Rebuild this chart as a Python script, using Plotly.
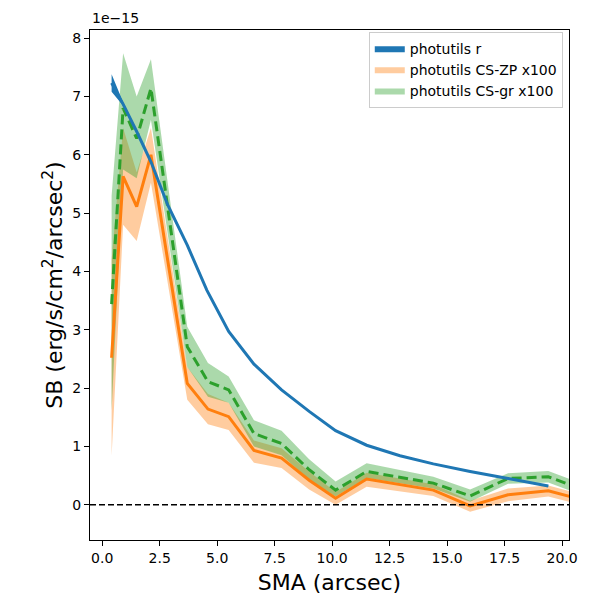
#!/usr/bin/env python3
# -*- coding: utf-8 -*-
"""
Surface-brightness profiles vs SMA: photutils r band and the two
colour-corrected profiles (scaled x100), with their error bands.
"""

import plotly.graph_objects as go

# ---------------------------------------------------------------
# data (SB in units of 1e-15 erg/s/cm^2/arcsec^2)
sma_r = [0.41, 0.91, 1.5, 2.12, 2.85, 3.7, 4.55, 5.5, 6.6, 7.8, 9.0,
         10.15, 11.5, 12.95, 14.4, 16.0, 17.65, 19.4]
sb_r = [7.23, 6.87, 6.4, 5.88, 5.14, 4.45, 3.68, 2.97, 2.41, 1.97, 1.6,
        1.27, 1.02, 0.84, 0.70, 0.57, 0.45, 0.32]
sb_r_err = [0.15, 0.03, 0.02, 0.01, 0.01, 0.01, 0.01, 0.01, 0.01, 0.01,
            0.01, 0.01, 0.01, 0.01, 0.01, 0.01, 0.01, 0.01]

sma_cs = [0.41, 0.91, 1.5, 2.12, 3.7, 4.6, 5.5, 6.6, 7.8, 9.0, 10.15,
          11.5, 14.4, 16.0, 17.65, 19.4, 21.3]

sb_zp = [2.52, 5.63, 5.11, 6.0, 2.08, 1.64, 1.51, 0.93, 0.80, 0.42, 0.11,
         0.44, 0.25, -0.02, 0.17, 0.24, 0.04]
sb_zp_lo = [0.84, 4.8, 4.52, 5.52, 1.8, 1.38, 1.28, 0.72, 0.63, 0.26, 0.0,
            0.31, 0.15, -0.12, 0.06, 0.14, -0.05]
sb_zp_hi = [4.2, 6.46, 5.7, 6.46, 2.36, 1.9, 1.75, 1.1, 0.97, 0.57, 0.22,
            0.55, 0.35, 0.07, 0.28, 0.33, 0.13]

sb_gr = [3.44, 6.8, 6.28, 7.14, 2.71, 2.11, 1.97, 1.22, 1.05, 0.6, 0.25,
         0.57, 0.37, 0.15, 0.45, 0.48, 0.2]
sb_gr_lo = [1.61, 5.75, 5.6, 6.6, 2.36, 1.85, 1.75, 1.0, 0.85, 0.43, 0.14,
            0.46, 0.28, 0.05, 0.36, 0.38, 0.1]
sb_gr_hi = [5.3, 7.74, 7.0, 7.64, 3.05, 2.43, 2.2, 1.45, 1.27, 0.78, 0.40,
            0.71, 0.48, 0.26, 0.54, 0.58, 0.3]

x_ticks = [0, 2.5, 5, 7.5, 10, 12.5, 15, 17.5, 20]
y_ticks = [0, 1, 2, 3, 4, 5, 6, 7, 8]

BLUE = "#1f77b4"
ORANGE = "#ff7f0e"
GREEN = "#2ca02c"
FONT = "DejaVu Sans"


# ---------------------------------------------------------------
def add_band(fig, x, lo, hi, fillcolor, name, rank):
    fig.add_trace(go.Scatter(x=x, y=lo, mode="lines", line=dict(width=0),
                             showlegend=False, hoverinfo="skip"))
    fig.add_trace(go.Scatter(x=x, y=hi, mode="lines", line=dict(width=0),
                             fill="tonexty", fillcolor=fillcolor, name=name,
                             legendrank=rank))


fig = go.Figure()

add_band(fig, sma_cs, sb_zp_lo, sb_zp_hi, "rgba(255,127,14,0.4)",
         "photutils CS-ZP x100", 2)
add_band(fig, sma_cs, sb_gr_lo, sb_gr_hi, "rgba(44,160,44,0.4)",
         "photutils CS-gr x100", 3)

fig.add_trace(go.Scatter(x=sma_cs, y=sb_zp, mode="lines",
                         line=dict(color=ORANGE, width=3), showlegend=False))
fig.add_trace(go.Scatter(x=sma_cs, y=sb_gr, mode="lines",
                         line=dict(color=GREEN, width=3, dash="10px,5px"),
                         showlegend=False))

r_lo = [v - e for v, e in zip(sb_r, sb_r_err)]
r_hi = [v + e for v, e in zip(sb_r, sb_r_err)]
add_band(fig, sma_r, r_lo, r_hi, BLUE, "photutils r", 1)
fig.add_trace(go.Scatter(x=sma_r, y=sb_r, mode="lines",
                         line=dict(color=BLUE, width=3), showlegend=False))

fig.add_shape(type="line", xref="paper", x0=0, x1=1, yref="y", y0=0, y1=0,
              line=dict(color="black", width=1.6, dash="6px,3px"))

fig.add_annotation(text="1e\u221215", xref="paper", yref="paper", x=0, y=1,
                   xanchor="left", yanchor="bottom", showarrow=False,
                   yshift=2, font=dict(size=14, color="black", family=FONT))

axis_common = dict(
    showgrid=False, zeroline=False, showline=True, linecolor="black",
    linewidth=1, mirror=True, ticks="outside", ticklen=5, tickwidth=1,
    tickcolor="black", tickfont=dict(size=14, color="black", family=FONT),
    automargin=False,
)

fig.update_xaxes(range=[-0.53, 20.3], tickvals=x_ticks, tickformat=".1f",
                 title=dict(text="SMA (arcsec)", standoff=9,
                            font=dict(size=22, color="black", family=FONT)),
                 **axis_common)
fig.update_yaxes(range=[-0.605, 8.14], tickvals=y_ticks,
                 title=dict(text="SB (erg/s/cm<sup>2</sup>/arcsec<sup>2</sup>)",
                            standoff=3,
                            font=dict(size=22, color="black", family=FONT)),
                 **axis_common)

# the page adds an 8px body margin, so the figure is 592px square
fig.update_layout(
    width=592, height=592,
    margin=dict(l=82, r=31, t=22, b=60),
    plot_bgcolor="white", paper_bgcolor="white",
    font=dict(family=FONT, color="black"),
    legend=dict(x=0.987, y=0.997, xanchor="right", yanchor="top",
                bgcolor="rgba(255,255,255,0.8)", bordercolor="#cccccc",
                borderwidth=1, font=dict(size=14, family=FONT),
                traceorder="normal", tracegroupgap=0),
)

fig.write_html("out.html")
